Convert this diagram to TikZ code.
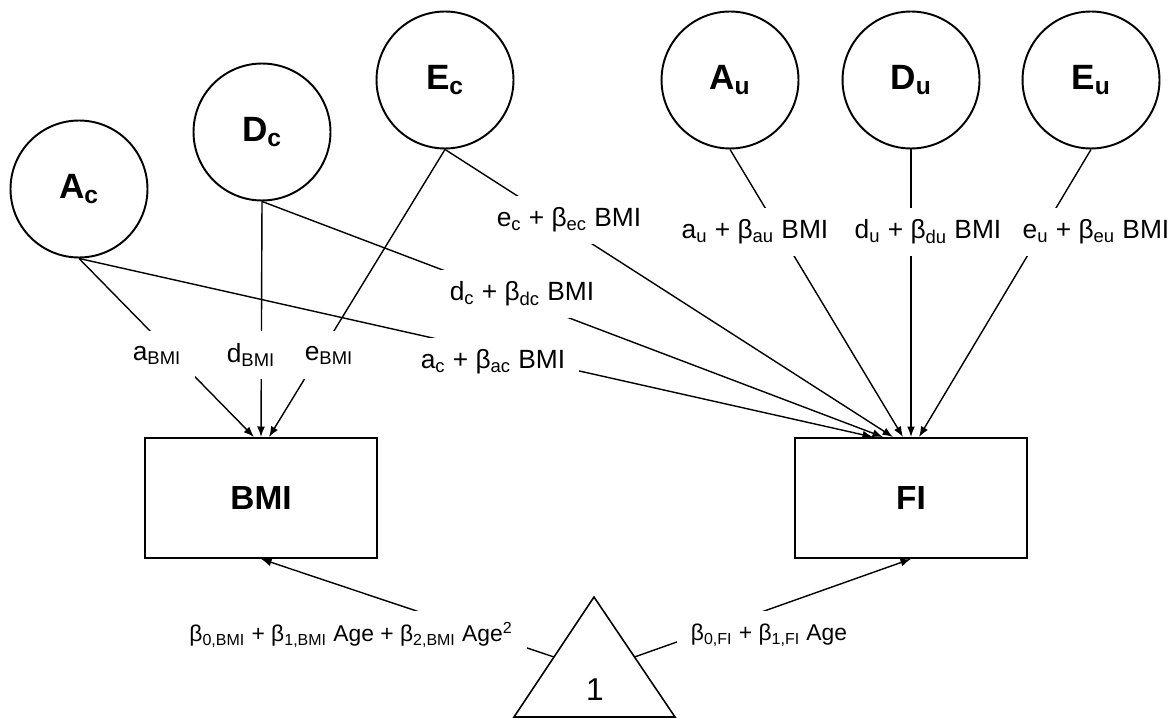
\documentclass[tikz,border=0pt]{standalone}
\usepackage{fontspec}
\setmainfont{Liberation Sans}
\usetikzlibrary{arrows.meta,calc}

\tikzset{
  latent/.style={circle,draw,line width=1.1pt,minimum size=2.74cm,inner sep=0pt,
    font=\fontsize{20}{24}\selectfont\bfseries},
  observed/.style={rectangle,draw,line width=1.1pt,minimum width=4.64cm,
    minimum height=2.4cm,font=\fontsize{19}{23}\selectfont\bfseries},
  link/.style={line width=0.8pt,-{Latex[length=6pt,width=4.5pt]}},
  coef/.style={fill=white,inner xsep=0.28cm,inner ysep=0pt,minimum height=0.96cm,
    font=\fontsize{15}{18}\selectfont},
  coefsmall/.style={coef,font=\fontsize{13}{16}\selectfont}
}

\begin{document}
\begin{tikzpicture}[x=0.02cm,y=-0.02cm]
  \useasboundingbox (0,0) rectangle (1175,719);
  % common factors
  \node[latent] (Ac) at (79,189) {A\textsubscript{c}};
  \node[latent] (Dc) at (262,132) {D\textsubscript{c}};
  \node[latent] (Ec) at (445,80) {E\textsubscript{c}};
  % unique factors
  \node[latent] (Au) at (730,80) {A\textsubscript{u}};
  \node[latent] (Du) at (911,80) {D\textsubscript{u}};
  \node[latent] (Eu) at (1091,80) {E\textsubscript{u}};
  % observed
  \node[observed] (BMI) at (261,498) {BMI};
  \node[observed] (FI) at (911,498) {FI};
  % constant
  \coordinate (triTop) at (594,597);
  \coordinate (triL) at (514,717);
  \coordinate (triR) at (675,717);
  \draw[line width=0.9pt] (triTop) -- (triL) -- (triR) -- cycle;
  \node[font=\fontsize{18}{22}\selectfont] (one) at (595,690) {1};
  \coordinate (triLm) at ($(triTop)!0.5!(triL)$);
  \coordinate (triRm) at ($(triTop)!0.5!(triR)$);

  % paths to BMI
  \draw[link] (Ac.south) -- ($(BMI.north)+(-7,0)$);
  \draw[link] (Dc.south) -- (BMI.north);
  \draw[link] (Ec.south) -- ($(BMI.north)+(8,0)$);
  % paths to FI
  \draw[link] (Ac.south) -- ($(FI.north)+(-38,0)$);
  \draw[link] (Dc.south) -- ($(FI.north)+(-28,0)$);
  \draw[link] (Ec.south) -- ($(FI.north)+(-18,0)$);
  \draw[link] (Au.south) -- ($(FI.north)+(-8,0)$);
  \draw[link] (Du.south) -- (FI.north);
  \draw[link] (Eu.south) -- ($(FI.north)+(8,0)$);
  % means
  \draw[link] (triLm) -- (BMI.south);
  \draw[link] (triRm) -- (FI.south);

  % coefficients
  \node[coef] (aBMI) at (157,355) {a\textsubscript{BMI}};
  \node[coef] (dBMI) at (251,355) {d\textsubscript{BMI}};
  \node[coef] (eBMI) at (329,355) {e\textsubscript{BMI}};
  \node[coef] (acoef) at (493,362) {a\textsubscript{c} + β\textsubscript{ac} BMI};
  \node[coef] (dcoef) at (522,294) {d\textsubscript{c} + β\textsubscript{dc} BMI};
  \node[coef] (ecoef) at (569,220) {e\textsubscript{c} + β\textsubscript{ec} BMI};
  \node[coef] (aucoef) at (755,232) {a\textsubscript{u} + β\textsubscript{au} BMI};
  \node[coef] (ducoef) at (928,232) {d\textsubscript{u} + β\textsubscript{du} BMI};
  \node[coef] (eucoef) at (1096,232) {e\textsubscript{u} + β\textsubscript{eu} BMI};
  \node[coefsmall] (ageBMI) at (351,635)
    {β\textsubscript{0,BMI} + β\textsubscript{1,BMI} Age + β\textsubscript{2,BMI} Age\textsuperscript{2}};
  \node[coefsmall] (ageFI) at (769,635)
    {β\textsubscript{0,FI} + β\textsubscript{1,FI} Age};
\end{tikzpicture}
\end{document}
